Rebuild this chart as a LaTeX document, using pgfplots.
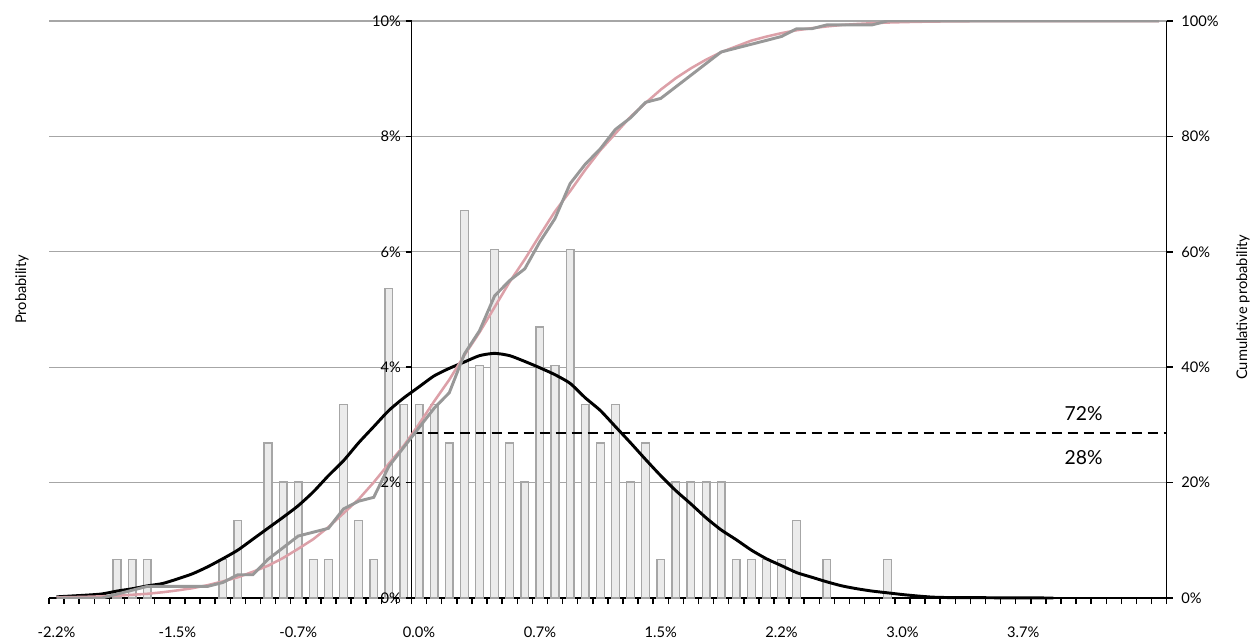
\documentclass[border=0pt]{standalone}
\usepackage{pgfplots}
\pgfplotsset{compat=1.18}
\usepackage{pgfplotstable}
\usepackage{fontspec}
\setmainfont{Lato}
\definecolor{barfill}{HTML}{EBEBEB}
\definecolor{baredge}{HTML}{A6A6A6}
\definecolor{gridc}{HTML}{A6A6A6}
\definecolor{cumgray}{HTML}{989898}
\definecolor{cumpink}{HTML}{DCA0A8}

\pgfplotstableread{
i p
4 0.671
5 0.671
6 0.671
11 0.671
12 1.342
14 2.685
15 2.013
16 2.013
17 0.671
18 0.671
19 3.356
20 1.342
21 0.671
22 5.369
23 3.356
24 3.356
25 3.356
26 2.685
27 6.711
28 4.027
29 6.040
30 2.685
31 2.013
32 4.698
33 4.027
34 6.040
35 3.356
36 2.685
37 3.356
38 2.013
39 2.685
40 0.671
41 2.013
42 2.013
43 2.013
44 2.013
45 0.671
46 0.671
47 0.671
48 0.671
49 1.342
51 0.671
55 0.671
}\bars

\pgfplotstableread{
i d
0 0.02
1 0.035
2 0.05
3 0.07
4 0.12
5 0.16
6 0.21
7 0.25
8 0.33
9 0.42
10 0.54
11 0.68
12 0.83
13 1.02
14 1.21
15 1.40
16 1.60
17 1.84
18 2.12
19 2.38
20 2.69
21 2.97
22 3.25
23 3.47
24 3.66
25 3.85
26 3.98
27 4.09
28 4.20
29 4.24
30 4.20
31 4.10
32 3.99
33 3.87
34 3.72
35 3.47
36 3.25
37 2.97
38 2.69
39 2.40
40 2.12
41 1.86
42 1.63
43 1.39
44 1.18
45 1.01
46 0.83
47 0.68
48 0.56
49 0.44
50 0.36
51 0.28
52 0.21
53 0.16
54 0.12
55 0.09
56 0.06
57 0.035
58 0.015
59 0.008
60 0.006
61 0.006
62 0.004
63 0.002
64 0.001
65 0.001
66 0.0
}\dens

\pgfplotstableread{
i c t
0 0 0.11
1 0 0.15
2 0 0.21
3 0 0.29
4 0.67 0.40
5 1.34 0.55
6 2.01 0.73
7 2.01 0.99
8 2.01 1.32
9 2.01 1.70
10 2.01 2.22
11 2.68 2.87
12 4.03 3.59
13 4.03 4.55
14 6.71 5.59
15 8.72 6.94
16 10.74 8.53
17 11.41 10.20
18 12.08 12.30
19 15.44 14.69
20 16.78 17.11
21 17.45 20.05
22 22.82 23.27
23 26.17 26.43
24 29.53 30.15
25 32.89 34.09
26 35.57 37.83
27 42.28 42.07
28 46.31 46.02
29 52.35 50.40
30 55.03 54.80
31 57.05 58.70
32 61.74 62.90
33 65.77 67.00
34 71.81 70.50
35 75.17 74.20
36 77.85 77.60
37 81.21 80.50
38 83.22 83.40
39 85.91 85.80
40 86.58 88.10
41 88.59 90.10
42 90.60 91.80
43 92.62 93.30
44 94.63 94.60
45 95.30 95.60
46 95.97 96.60
47 96.64 97.30
48 97.32 97.90
49 98.66 98.40
50 98.66 98.75
51 99.33 99.06
52 99.33 99.31
53 99.33 99.48
54 99.33 99.62
55 100 99.73
56 100 99.80
57 100 99.86
58 100 99.90
59 100 99.93
60 100 99.95
61 100 99.97
62 100 99.98
63 100 99.99
64 100 99.99
65 100 100
66 100 100
67 100 100
68 100 100
69 100 100
70 100 100
71 100 100
72 100 100
73 100 100
}\cum

\begin{document}
\begin{tikzpicture}
\pgfplotsset{
  every axis/.append style={
    scale only axis,
    height=432.75pt,
    tick label style={font=\fontsize{11}{13}\selectfont},
    label style={font=\fontsize{11}{13}\selectfont},
    major tick length=4.5pt,
    minor tick length=4.5pt,
    every tick/.style={black, line width=1.1pt},
  },
}
% main axis: bars, density, grid, x axis
\begin{axis}[
  width=838.3pt,
  xmin=-0.5, xmax=73.5,
  ymin=0, ymax=10,
  axis x line=bottom,
  axis y line*=left,
  xtick align=outside,
  y axis line style={draw=none},
  x axis line style={line width=1.1pt, -},
  ytick={2,4,6,8,10},
  yticklabels={},
  ytick style={draw=none},
  ymajorgrids,
  grid style={gridc, line width=1pt},
  xtick={-0.5,0.5,...,73.5},
  xticklabels={},
  extra x ticks={0,8,16,24,32,40,48,56,64},
  extra x tick labels={-2.2\%,-1.5\%,-0.7\%,0.0\%,0.7\%,1.5\%,2.2\%,3.0\%,3.7\%},
  extra x tick style={major tick length=0pt, grid=none, tick label style={yshift=-18pt}},
  clip=false,
]
\addplot[ybar, bar width=5.8pt, fill=barfill, draw=baredge, line width=1pt] table[x=i, y=p] {\bars};
\addplot[black, line width=2.2pt, smooth, tension=0.4, no markers] table[x=i, y=d] {\dens};
\addplot[black, line width=1.5pt, dash pattern=on 7.5pt off 4.5pt, no markers] coordinates {(23.5,2.865) (73.5,2.865)};
\node[font=\fontsize{14.5}{17}\selectfont] at (axis cs:68,3.19) {72\%};
\node[font=\fontsize{14.5}{17}\selectfont] at (axis cs:68,2.44) {28\%};
\coordinate (ll) at (rel axis cs:0,0);
\coordinate (ur) at (rel axis cs:1,1);
\coordinate (lm) at (rel axis cs:0,0.535);
\coordinate (rm) at (rel axis cs:1,0.504);
\end{axis}
% left probability axis placed at category boundary 23.5
\begin{axis}[
  at={(271.88pt,0pt)},
  width=566.42pt,
  xmin=23.5, xmax=73.5,
  ymin=0, ymax=10,
  axis x line=none,
  axis y line*=left,
  ytick align=outside,
  y axis line style={line width=1.1pt, -},
  ytick={0,2,4,6,8,10},
  yticklabels={0\%,2\%,4\%,6\%,8\%,10\%},
]
\addplot[draw=none] coordinates {(30,0)};
\end{axis}
% right cumulative axis
\begin{axis}[
  width=838.3pt,
  xmin=-0.5, xmax=73.5,
  ymin=0, ymax=100,
  axis x line=none,
  axis y line*=right,
  ytick align=outside,
  y axis line style={line width=1.1pt, -},
  ytick={0,20,40,60,80,100},
  yticklabels={0\%,20\%,40\%,60\%,80\%,100\%},
  yticklabel style={xshift=3pt},
]
\addplot[cumpink, line width=1.9pt, no markers] table[x=i, y=t] {\cum};
\addplot[cumgray, line width=2.2pt, no markers] table[x=i, y=c] {\cum};
\end{axis}
\node[rotate=90, font=\fontsize{11}{13}\selectfont] at ([xshift=-20.25pt]lm) {Probability};
\node[rotate=90, font=\fontsize{11}{13}\selectfont] at ([xshift=57.2pt]rm) {Cumulative probability};
\pgfresetboundingbox
\path ([shift={(-36.75pt,-31.5pt)}]ll) rectangle ([shift={(66.2pt,15.75pt)}]ur);
\end{tikzpicture}
\end{document}
